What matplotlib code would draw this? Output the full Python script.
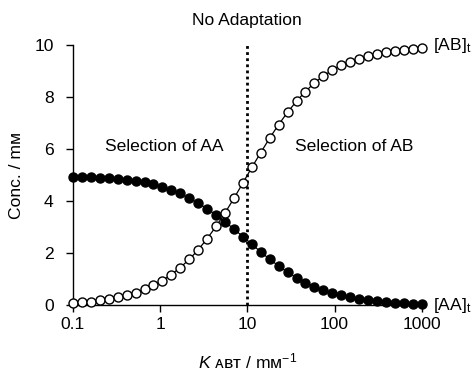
import matplotlib.pyplot as plt

plt.rcParams['font.family'] = ['Liberation Sans', 'DejaVu Sans']
plt.rcParams['mathtext.fontset'] = 'custom'
plt.rcParams['mathtext.rm'] = 'Liberation Sans'
plt.rcParams['mathtext.it'] = 'Liberation Sans:italic'

FS = 12.6

# K_ABT values (mM^-1), 40 points on a log grid from 0.1 to 1000
k_abt = [0.1, 0.1266, 0.1603, 0.2031, 0.2572, 0.3257, 0.4125, 0.5223, 0.6614, 0.8377,
         1.061, 1.343, 1.701, 2.154, 2.728, 3.455, 4.376, 5.541, 7.017, 8.886,
         11.25, 14.25, 18.05, 22.86, 28.94, 36.65, 46.42, 58.78, 74.44, 94.27,
         119.4, 151.2, 191.5, 242.5, 307.0, 388.8, 492.4, 623.6, 789.7, 1000]

# [AB]t (open circles) and [AA]t (filled circles), mM
ab_t = [0.10, 0.12, 0.15, 0.20, 0.25, 0.32, 0.40, 0.49, 0.62, 0.77,
        0.96, 1.19, 1.46, 1.77, 2.14, 2.57, 3.04, 3.56, 4.12, 4.71,
        5.31, 5.88, 6.44, 6.96, 7.43, 7.86, 8.23, 8.56, 8.83, 9.05,
        9.24, 9.37, 9.49, 9.59, 9.67, 9.74, 9.80, 9.84, 9.87, 9.90]
aa_t = [4.96, 4.95, 4.94, 4.92, 4.90, 4.87, 4.84, 4.80, 4.75, 4.68,
        4.56, 4.44, 4.31, 4.12, 3.94, 3.72, 3.48, 3.22, 2.94, 2.65,
        2.36, 2.06, 1.78, 1.52, 1.28, 1.07, 0.88, 0.73, 0.59, 0.48,
        0.39, 0.31, 0.25, 0.20, 0.16, 0.13, 0.10, 0.08, 0.06, 0.05]

x_ticks = [0.1, 1, 10, 100, 1000]
x_ticklabels = ['0.1', '1', '10', '100', '1000']
y_ticks = [0, 2, 4, 6, 8, 10]

fig = plt.figure(figsize=(4.73, 3.72), dpi=100)
ax = fig.add_axes([0.1543, 0.1788, 0.7372, 0.6989])

ax.plot(k_abt, aa_t, '-o', color='black', mfc='black', mec='black',
        ms=6.5, lw=0.9, clip_on=False, zorder=3)
ax.plot(k_abt, ab_t, '-o', color='black', mfc='white', mec='black',
        mew=1.0, ms=6.5, lw=0.9, clip_on=False, zorder=4)

# no adaptation line at K = 10
ax.axvline(10, color='black', lw=2, linestyle=(0, (1, 1.2)), zorder=2)

ax.set_xscale('log')
ax.set_xlim(0.1, 1000)
ax.set_ylim(0, 10)
ax.set_xticks(x_ticks)
ax.set_xticklabels(x_ticklabels)
ax.minorticks_off()
ax.set_yticks(y_ticks)

for s in ['top', 'right']:
    ax.spines[s].set_visible(False)
for s in ['left', 'bottom']:
    ax.spines[s].set_linewidth(1.0)
ax.tick_params(axis='both', direction='out', length=5, width=1.0, labelsize=FS)
ax.tick_params(axis='y', pad=9)
ax.tick_params(axis='x', pad=3)

ax.set_ylabel('Conc. / mᴍ', fontsize=FS, labelpad=7)
ax.set_xlabel(r'$\mathit{K}$ ᴀʙᴛ / mᴍ$^{\mathregular{-1}}$', fontsize=FS, labelpad=14)

ax.text(10, 10.98, 'No Adaptation', ha='center', va='center', fontsize=FS, clip_on=False)
ax.text(1.12, 6.1, 'Selection of AA', ha='center', va='center', fontsize=FS)
ax.text(169, 6.1, 'Selection of AB', ha='center', va='center', fontsize=FS)

tr = ax.get_yaxis_transform()
ax.text(1.032, 10.0, r'[AB]$_\mathregular{t}$', transform=tr, ha='left', va='center', fontsize=FS)
ax.text(1.032, 0.0, r'[AA]$_\mathregular{t}$', transform=tr, ha='left', va='center', fontsize=FS)

fig.savefig('out.png', dpi=100)
